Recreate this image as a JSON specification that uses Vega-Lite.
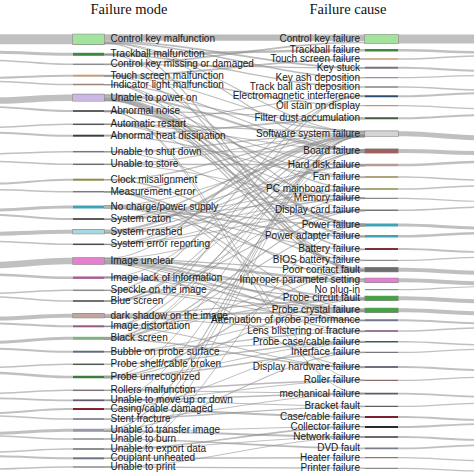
{
"$schema":"https://vega.github.io/schema/vega-lite/v6.json",
"width":474,"height":474,
"autosize":{"type":"fit","contains":"padding"},
"padding":0,
"background":"white",
"config":{"view":{"stroke":null}},
"resolve":{"scale":{"x":"independent","stroke":"independent","strokeWidth":"independent"}},
"datasets":{
"L":[
{"n":"Control key malfunction","y":39.3,"h":10,"f":39.3},
{"n":"Trackball malfunction","y":54.3,"h":3,"f":52.3},
{"n":"Control key missing or damaged","y":64.3,"h":1.5,"f":60.3},
{"n":"Touch screen malfunction","y":75.7,"h":2,"f":77.7},
{"n":"Indicator light malfunction","y":84.5,"h":1.5,"f":81.5},
{"n":"Unable to power on","y":97.7,"h":6.5,"f":100.7},
{"n":"Abnormal noise","y":111,"h":1.8,"f":107},
{"n":"Automatic restart","y":124.3,"h":1.5,"f":127.3},
{"n":"Abnormal heat dissipation","y":135.7,"h":2,"f":132.7},
{"n":"Unable to shut down","y":151.7,"h":1.5,"f":153.7},
{"n":"Unable to store","y":164.3,"h":1.5,"f":161.3},
{"n":"Clock misalignment","y":179.7,"h":2,"f":183.7},
{"n":"Measurement error","y":191.7,"h":1.5,"f":189.7},
{"n":"No charge/power supply","y":207,"h":3,"f":210},
{"n":"System caton","y":219,"h":2,"f":215},
{"n":"System crashed","y":231.7,"h":4,"f":233.7},
{"n":"System error reporting","y":244.3,"h":1.5,"f":241.3},
{"n":"Image unclear","y":261,"h":6.5,"f":265},
{"n":"Image lack of information","y":277.7,"h":2.5,"f":274.7},
{"n":"Speckle on the image","y":290.3,"h":1.5,"f":293.3},
{"n":"Blue screen","y":301,"h":1.5,"f":297},
{"n":"dark shadow on the image","y":315.7,"h":4,"f":318.7},
{"n":"Image distortation","y":326.3,"h":2,"f":323.3},
{"n":"Black screen","y":338.3,"h":3,"f":342.3},
{"n":"Bubble on probe surface","y":351.7,"h":2,"f":348.7},
{"n":"Probe shelf/cable broken","y":364.3,"h":1.5,"f":367.3},
{"n":"Probe unrecognized","y":377,"h":2.5,"f":373},
{"n":"Rollers malfunction","y":390.3,"h":1.5,"f":393.3},
{"n":"Unable to move up or down","y":400.3,"h":1.8,"f":398.3},
{"n":"Casing/cable damaged","y":409,"h":2,"f":413},
{"n":"Stent fracture","y":419,"h":1.5,"f":416},
{"n":"Unable to transfer image","y":430.3,"h":3,"f":433.3},
{"n":"Unable to burn","y":439,"h":1.5,"f":436},
{"n":"Unable to export data","y":449,"h":1.5,"f":452},
{"n":"Couplant unheated","y":458.3,"h":2,"f":456.3},
{"n":"Unable to print","y":467,"h":1.5,"f":469}
],
"R":[
{"n":"Control key failure","y":39,"h":9,"f":39},
{"n":"Trackball failure","y":50.3,"h":2.5,"f":52.3},
{"n":"Touch screen failure","y":59,"h":1.5,"f":56},
{"n":"Key stuck","y":67.7,"h":2,"f":70.7},
{"n":"Key ash deposition","y":77.7,"h":1.2,"f":75.7},
{"n":"Track ball ash deposition","y":87,"h":1.5,"f":90},
{"n":"Electromagnetic interference","y":96.3,"h":2,"f":93.3},
{"n":"Oil stain on display","y":105.7,"h":1.2,"f":108.7},
{"n":"Filter dust accumulation","y":118.3,"h":2,"f":115.3},
{"n":"Software system failure","y":133.7,"h":5,"f":137.7},
{"n":"Board failure","y":151,"h":4,"f":153},
{"n":"Hard disk failure","y":165,"h":2.5,"f":162},
{"n":"Fan failure","y":177,"h":1.5,"f":180},
{"n":"PC mainboard failure","y":189,"h":1.5,"f":186},
{"n":"Memory failure","y":198.3,"h":1.2,"f":201.3},
{"n":"Display card failure","y":210.3,"h":1.5,"f":207.3},
{"n":"Power failure","y":225,"h":3,"f":228},
{"n":"Power adapter failure","y":236.3,"h":2.5,"f":233.3},
{"n":"Battery failure","y":249,"h":1.8,"f":252},
{"n":"BIOS battery failure","y":260.3,"h":1.2,"f":257.3},
{"n":"Poor contact fault","y":269.7,"h":4,"f":272.7},
{"n":"Improper parameter setting","y":280.3,"h":4,"f":283.3},
{"n":"No plug-in","y":289.7,"h":1.2,"f":286.7},
{"n":"Probe circuit fault","y":298.3,"h":4,"f":301.3},
{"n":"Probe crystal failure","y":310.3,"h":4,"f":313.3},
{"n":"Attenuation of probe performance","y":320.3,"h":2,"f":323.3},
{"n":"Lens blistering or fracture","y":331,"h":1.5,"f":328},
{"n":"Probe case/cable failure","y":341.7,"h":1.5,"f":344.7},
{"n":"Interface failure","y":352.3,"h":1.2,"f":349.3},
{"n":"Display hardware failure","y":367,"h":2,"f":370},
{"n":"Roller failure","y":380.3,"h":1.2,"f":377.3},
{"n":"mechanical failure","y":393.7,"h":1.8,"f":396.7},
{"n":"Bracket fault","y":406.3,"h":1.2,"f":403.3},
{"n":"Case/cable failure","y":417,"h":1.8,"f":420},
{"n":"Collector failure","y":427,"h":1.8,"f":424},
{"n":"Network failure","y":437,"h":1.8,"f":440},
{"n":"DVD fault","y":448.3,"h":1.8,"f":445.3},
{"n":"Heater failure","y":457.7,"h":1.2,"f":460.7},
{"n":"Printer failure","y":468.3,"h":1.2,"f":471}
],
"links":[
{"s":37.5,"t":37.8,"w":6},{"s":41.5,"t":67.7,"w":1.2},{"s":42.8,"t":77.7,"w":1},{"s":43.8,"t":269.7,"w":0.8},{"s":43,"t":132,"w":0.6},{"s":43.5,"t":150.5,"w":0.6},
{"s":64.3,"t":42.5,"w":1.2},{"s":64.3,"t":68,"w":0.8},
{"s":54.3,"t":50.3,"w":2},{"s":54.8,"t":87,"w":1},{"s":55,"t":271,"w":0.6},
{"s":75.7,"t":59,"w":1.4},{"s":75.7,"t":105.7,"w":0.8},{"s":76,"t":131.5,"w":0.6},{"s":76.2,"t":209.8,"w":0.6},
{"s":84.5,"t":149.5,"w":0.8},{"s":84.5,"t":268,"w":0.8},{"s":84.8,"t":224.5,"w":0.6},
{"s":94.8,"t":131,"w":0.7},{"s":95.5,"t":150,"w":1.5},{"s":96.8,"t":189,"w":0.8},{"s":98,"t":224,"w":1.8},{"s":99.2,"t":236,"w":1.4},{"s":100,"t":249,"w":1},{"s":100.5,"t":260,"w":0.7},{"s":100.8,"t":269,"w":0.8},
{"s":111,"t":176.5,"w":0.8},{"s":110.5,"t":117.5,"w":0.8},{"s":111.5,"t":165.5,"w":0.6},{"s":111.7,"t":393,"w":0.5},{"s":111.8,"t":380,"w":0.5},
{"s":124.3,"t":96.3,"w":0.6},{"s":124.3,"t":132,"w":0.8},{"s":124.3,"t":198,"w":0.6},{"s":124.3,"t":225.5,"w":0.6},{"s":124.5,"t":150.2,"w":0.6},
{"s":135.2,"t":118.8,"w":1.2},{"s":136,"t":177.5,"w":0.8},
{"s":151.7,"t":133,"w":0.8},{"s":151.7,"t":152,"w":0.6},{"s":152,"t":224,"w":0.5},
{"s":164.3,"t":164.5,"w":1},{"s":164.3,"t":134,"w":0.6},{"s":164.6,"t":198,"w":0.5},
{"s":179.7,"t":260.5,"w":1},{"s":179.7,"t":134.5,"w":0.7},
{"s":191.7,"t":279,"w":1},{"s":191.7,"t":135,"w":0.6},{"s":192,"t":309,"w":0.6},{"s":192.2,"t":320.8,"w":0.5},
{"s":205.8,"t":226,"w":1},{"s":207,"t":236.8,"w":1.2},{"s":208,"t":249.5,"w":0.8},{"s":208.3,"t":270,"w":0.6},{"s":205.6,"t":151.5,"w":0.5},
{"s":219,"t":135.3,"w":1},{"s":219,"t":198.5,"w":0.6},{"s":219.5,"t":165.8,"w":0.6},{"s":219.6,"t":188.5,"w":0.5},
{"s":230.5,"t":135.8,"w":1.8},{"s":232,"t":166,"w":0.8},{"s":232.8,"t":189.3,"w":0.7},{"s":233.3,"t":198.7,"w":0.5},
{"s":244.3,"t":136.2,"w":0.8},{"s":244.3,"t":210.5,"w":0.6},{"s":244.5,"t":198,"w":0.5},{"s":244.6,"t":164.7,"w":0.5},
{"s":258,"t":96,"w":0.6},{"s":258.3,"t":270.5,"w":0.8},{"s":259.5,"t":280,"w":2},{"s":260.8,"t":297.5,"w":1.3},{"s":262,"t":309.5,"w":1.8},{"s":263,"t":320,"w":1},{"s":263.7,"t":330.8,"w":0.6},{"s":264,"t":366.5,"w":0.6},{"s":258.6,"t":211,"w":0.5},
{"s":277.2,"t":281.5,"w":0.8},{"s":277.7,"t":298.5,"w":0.8},{"s":278.2,"t":310.5,"w":0.8},{"s":276.8,"t":136.4,"w":0.5},
{"s":290.3,"t":96.8,"w":0.6},{"s":290.3,"t":311,"w":0.7},{"s":290.5,"t":320.5,"w":0.6},
{"s":301,"t":136,"w":0.6},{"s":301,"t":210,"w":0.8},{"s":301,"t":197.8,"w":0.5},{"s":301,"t":151.2,"w":0.5},
{"s":314.5,"t":299.3,"w":1},{"s":316,"t":311.5,"w":1.4},{"s":317.2,"t":331.3,"w":0.7},{"s":317.5,"t":320.6,"w":0.7},
{"s":326.3,"t":95.8,"w":0.6},{"s":326.3,"t":152.5,"w":0.6},{"s":326.3,"t":299.8,"w":0.7},{"s":326.6,"t":367.6,"w":0.6},
{"s":337.5,"t":152.8,"w":0.5},{"s":338,"t":210.8,"w":0.8},{"s":338.5,"t":226.3,"w":0.6},{"s":339.2,"t":367.3,"w":1},{"s":337.2,"t":136.3,"w":0.5},{"s":339.5,"t":270.8,"w":0.5},
{"s":351.7,"t":331.5,"w":0.8},{"s":351.7,"t":341.2,"w":0.6},{"s":352,"t":311.2,"w":0.5},
{"s":364.3,"t":342,"w":1},
{"s":376.3,"t":271,"w":0.8},{"s":377,"t":300,"w":0.6},{"s":377.7,"t":352.3,"w":1},{"s":376,"t":136.8,"w":0.5},{"s":377.8,"t":342.5,"w":0.5},
{"s":390.3,"t":380.3,"w":1},{"s":390.5,"t":393.3,"w":0.6},
{"s":400.3,"t":393.7,"w":1.2},{"s":400.3,"t":406,"w":0.6},{"s":400.5,"t":380.7,"w":0.5},{"s":400,"t":152.3,"w":0.5},
{"s":409,"t":417,"w":1.4},{"s":409,"t":342.3,"w":0.5},
{"s":419,"t":406.6,"w":1},{"s":419.2,"t":394.1,"w":0.5},
{"s":429,"t":136.5,"w":0.7},{"s":430,"t":352.6,"w":0.6},{"s":431,"t":437,"w":1.4},{"s":431.5,"t":426.5,"w":0.5},
{"s":439,"t":448.3,"w":1.2},{"s":439,"t":136.9,"w":0.5},
{"s":449,"t":427,"w":1.2},{"s":449,"t":136.6,"w":0.5},{"s":449.2,"t":436.5,"w":0.5},
{"s":458.3,"t":457.7,"w":1},{"s":458,"t":225.8,"w":0.5},
{"s":467,"t":468.3,"w":1},{"s":466.8,"t":137,"w":0.5},{"s":467.2,"t":437.5,"w":0.5}
]
},
"layer":[
{
"data":{"name":"L"},
"transform":[
{"fold":["f","f","y","y"],"as":["key","val"]},
{"window":[{"op":"row_number","as":"k"}],"groupby":["n"]}
],
"mark":{"type":"line","interpolate":"monotone","stroke":"#8c8c8c","opacity":0.55,"clip":true},
"encoding":{
"x":{"field":"k","type":"quantitative","scale":{"domain":[1,2,3,4],"range":[-12,-6,66,73]},"axis":null},
"y":{"field":"val","type":"quantitative","scale":{"domain":[0,474],"nice":false,"zero":false,"reverse":true},"axis":null},
"detail":{"field":"n","type":"nominal"},
"strokeWidth":{"field":"h","type":"quantitative","scale":null}
}
},
{
"data":{"name":"R"},
"transform":[
{"fold":["y","y","f","f"],"as":["key","val"]},
{"window":[{"op":"row_number","as":"k"}],"groupby":["n"]}
],
"mark":{"type":"line","interpolate":"monotone","stroke":"#8c8c8c","opacity":0.55,"clip":true},
"encoding":{
"x":{"field":"k","type":"quantitative","scale":{"domain":[1,2,3,4],"range":[398,405,478,486]},"axis":null},
"y":{"field":"val","type":"quantitative","axis":null},
"detail":{"field":"n","type":"nominal"},
"strokeWidth":{"field":"h","type":"quantitative","scale":null}
}
},
{
"data":{"name":"links"},
"transform":[
{"window":[{"op":"row_number","as":"id"}]},
{"fold":["s","s","t","t"],"as":["key","val"]},
{"window":[{"op":"row_number","as":"k"}],"groupby":["id"]}
],
"mark":{"type":"line","interpolate":"monotone","stroke":"#8a8a8a","opacity":0.58,"clip":true},
"encoding":{
"x":{"field":"k","type":"quantitative","scale":{"domain":[1,2,3,4],"range":[104,110,359,365]},"axis":null},
"y":{"field":"val","type":"quantitative","axis":null},
"detail":{"field":"id","type":"nominal"},
"strokeWidth":{"field":"w","type":"quantitative","scale":{"domain":[0,6],"range":[0.45,6.45]},"legend":null}
}
},
{
"data":{"name":"L"},
"transform":[{"filter":"datum.h>=4"}],
"mark":{"type":"rule","stroke":"#8a8a8a"},
"encoding":{
"x":{"datum":72.4,"type":"quantitative","scale":{"domain":[0,474],"nice":false,"zero":false},"axis":null},"x2":{"datum":104.6},
"y":{"field":"y","type":"quantitative","axis":null},
"strokeWidth":{"field":"h","type":"quantitative","scale":{"domain":[0,10],"range":[1.2,11.2]},"legend":null}
}
},
{
"data":{"name":"L"},
"mark":{"type":"rule"},
"encoding":{
"x":{"datum":73,"type":"quantitative","scale":{"domain":[0,474],"nice":false,"zero":false},"axis":null},"x2":{"datum":104},
"y":{"field":"y","type":"quantitative","axis":null},
"strokeWidth":{"field":"h","type":"quantitative","scale":null},
"stroke":{"field":"n","type":"nominal","legend":null,"scale":{
"domain":["Control key malfunction","Trackball malfunction","Control key missing or damaged","Touch screen malfunction","Indicator light malfunction","Unable to power on","Abnormal noise","Automatic restart","Abnormal heat dissipation","Unable to shut down","Unable to store","Clock misalignment","Measurement error","No charge/power supply","System caton","System crashed","System error reporting","Image unclear","Image lack of information","Speckle on the image","Blue screen","dark shadow on the image","Image distortation","Black screen","Bubble on probe surface","Probe shelf/cable broken","Probe unrecognized","Rollers malfunction","Unable to move up or down","Casing/cable damaged","Stent fracture","Unable to transfer image","Unable to burn","Unable to export data","Couplant unheated","Unable to print"],
"range":["#a3e39e","#3b8a3e","#8c8c8c","#c39a78","#a08070","#c9b9e3","#4d4d4d","#555555","#3d3d3d","#777777","#6e6e6e","#8c8a45","#7a7a7a","#3ea3b5","#5c5c5c","#a5d8e2","#4a4a4a","#e57fd0","#a85f96","#8a8a8a","#404040","#c4a5a2","#935a86","#7eb27e","#5f6b80","#4d5a4d","#3b7d3b","#857080","#625a6a","#8b1f2f","#6c6c7a","#9a98a8","#8a8a8a","#6a6a6a","#6d7585","#8a8a8a"]}}
}
},
{
"data":{"name":"R"},
"transform":[{"filter":"datum.h>=4"}],
"mark":{"type":"rule","stroke":"#8a8a8a"},
"encoding":{
"x":{"datum":364.4,"type":"quantitative","scale":{"domain":[0,474],"nice":false,"zero":false},"axis":null},"x2":{"datum":398.6},
"y":{"field":"y","type":"quantitative","axis":null},
"strokeWidth":{"field":"h","type":"quantitative","scale":{"domain":[0,10],"range":[1.2,11.2]},"legend":null}
}
},
{
"data":{"name":"R"},
"mark":{"type":"rule"},
"encoding":{
"x":{"datum":365,"type":"quantitative","scale":{"domain":[0,474],"nice":false,"zero":false},"axis":null},"x2":{"datum":398},
"y":{"field":"y","type":"quantitative","axis":null},
"strokeWidth":{"field":"h","type":"quantitative","scale":null},
"stroke":{"field":"n","type":"nominal","legend":null,"scale":{
"domain":["Control key failure","Trackball failure","Touch screen failure","Key stuck","Key ash deposition","Track ball ash deposition","Electromagnetic interference","Oil stain on display","Filter dust accumulation","Software system failure","Board failure","Hard disk failure","Fan failure","PC mainboard failure","Memory failure","Display card failure","Power failure","Power adapter failure","Battery failure","BIOS battery failure","Poor contact fault","Improper parameter setting","No plug-in","Probe circuit fault","Probe crystal failure","Attenuation of probe performance","Lens blistering or fracture","Probe case/cable failure","Interface failure","Display hardware failure","Roller failure","mechanical failure","Bracket fault","Case/cable failure","Collector failure","Network failure","DVD fault","Heater failure","Printer failure"],
"range":["#a3e39e","#3b8a3e","#c39a78","#7d6f80","#9c8fa0","#8a8080","#2f4f6f","#c8946e","#3e5e3e","#d4d4d4","#a0605e","#b59a96","#958450","#8c8a45","#8a8a8a","#777777","#3ea3b5","#3ea3b5","#7d2f3d","#8a8a8a","#6e6e6e","#e57fd0","#6fa08a","#3fa63f","#3fa63f","#6f768e","#7d4d6e","#3e5e4e","#777777","#6f6f80","#8a6a6a","#5a5a6a","#5f5f5f","#7d1f2f","#2a2a2a","#6a6a6a","#7d7d8a","#a07070","#8a8a8a"]}}
}
},
{
"data":{"name":"L"},
"mark":{"type":"text","align":"left","baseline":"middle","font":"Liberation Sans","fontSize":10,"color":"#1a1a1a"},
"encoding":{
"x":{"datum":110.5,"type":"quantitative","scale":{"domain":[0,474],"nice":false,"zero":false},"axis":null},
"y":{"field":"y","type":"quantitative","axis":null},
"text":{"field":"n","type":"nominal"}
}
},
{
"data":{"name":"R"},
"mark":{"type":"text","align":"right","baseline":"middle","font":"Liberation Sans","fontSize":10,"color":"#1a1a1a"},
"encoding":{
"x":{"datum":360,"type":"quantitative","scale":{"domain":[0,474],"nice":false,"zero":false},"axis":null},
"y":{"field":"y","type":"quantitative","axis":null},
"text":{"field":"n","type":"nominal"}
}
},
{
"data":{"values":[{"t":"Failure mode","p":129},{"t":"Failure cause","p":348}]},
"mark":{"type":"text","align":"center","baseline":"alphabetic","font":"Liberation Serif","fontSize":14.5,"color":"#111111"},
"encoding":{
"x":{"field":"p","type":"quantitative","scale":{"domain":[0,474],"nice":false,"zero":false},"axis":null},
"y":{"datum":13.5,"type":"quantitative"},
"text":{"field":"t","type":"nominal"}
}
}
]
}
